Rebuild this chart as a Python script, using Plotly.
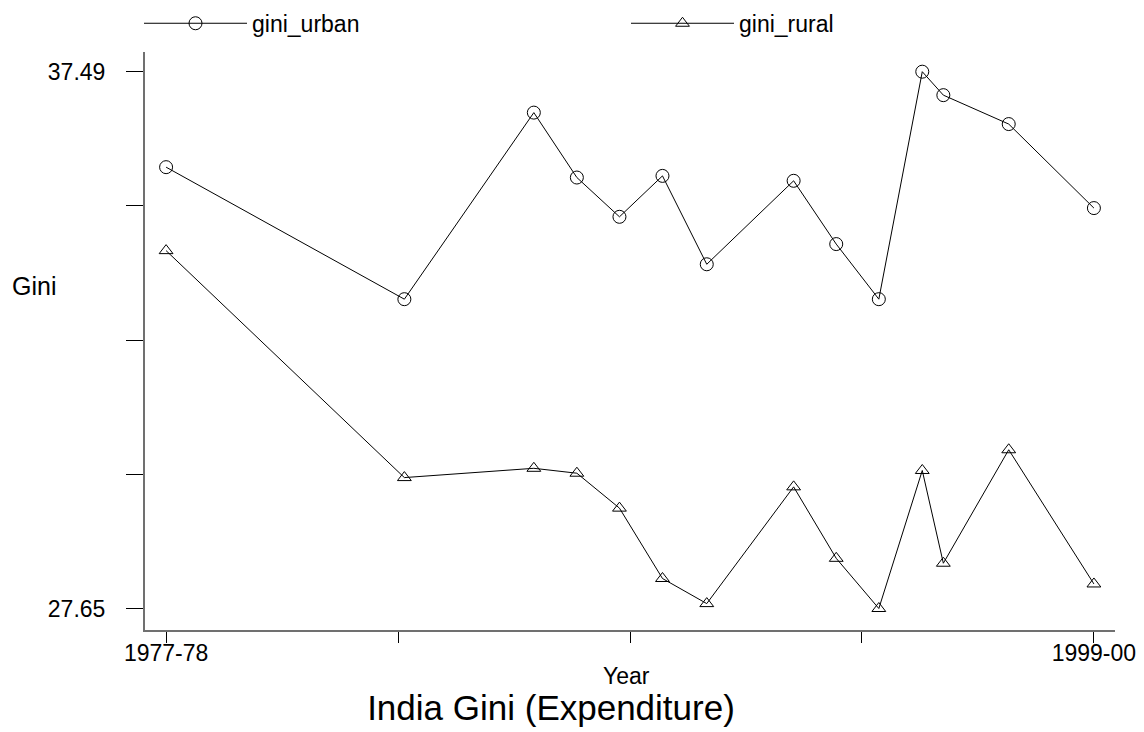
import plotly.graph_objects as go

# ---- data ----
years = [1977.5, 1983.15, 1986.22, 1987.24, 1988.25, 1989.27, 1990.32,
         1992.38, 1993.39, 1994.40, 1995.43, 1995.93, 1997.48, 1999.5]
gini_urban = [35.74, 33.32, 36.74, 35.55, 34.83, 35.58, 33.96,
              35.49, 34.33, 33.32, 37.49, 37.06, 36.53, 34.99]
gini_rural = [34.21, 30.05, 30.22, 30.13, 29.49, 28.20, 27.74,
              29.88, 28.57, 27.65, 30.18, 28.48, 30.56, 28.10]

x_tickvals = [1977.5, 1983.0, 1988.5, 1994.0, 1999.5]
x_ticktext = ["1977-78", "", "", "", "1999-00"]
y_tickvals = [27.65, 30.11, 32.57, 35.03, 37.49]
y_ticktext = ["27.65", "", "", "", "37.49"]

FONT = "Liberation Sans, Arial, sans-serif"
W, H = 1144, 732
L, R, T, B = 145, 29, 52, 102
PW, PH = W - L - R, H - T - B


def paper_x(px):
    return (px - L) / PW


def paper_y(py):
    return (H - B - py) / PH


fig = go.Figure()
fig.add_trace(go.Scatter(
    x=years, y=gini_urban, mode="lines+markers", name="gini_urban",
    line=dict(color="black", width=1),
    marker=dict(symbol="circle-open", size=13, color="black", line=dict(width=1)),
    legend="legend",
))
fig.add_trace(go.Scatter(
    x=years, y=gini_rural, mode="lines+markers", name="gini_rural",
    line=dict(color="black", width=1),
    marker=dict(symbol="triangle-up-open", size=12, color="black", line=dict(width=1)),
    legend="legend2",
))

legend_common = dict(
    xref="paper", yref="paper", xanchor="left", yanchor="middle",
    orientation="h", itemwidth=103, bgcolor="rgba(0,0,0,0)", borderwidth=0,
    font=dict(family=FONT, size=23, color="black"),
)

fig.update_layout(
    width=W, height=H,
    margin=dict(l=L, r=R, t=T, b=B, pad=0, autoexpand=False),
    paper_bgcolor="white", plot_bgcolor="white",
    font=dict(family=FONT, color="black"),
    showlegend=True,
    legend=dict(x=paper_x(139), y=paper_y(23.3), **legend_common),
    legend2=dict(x=paper_x(626), y=paper_y(23.3), **legend_common),
    title=dict(text="India Gini (Expenditure)", x=551 / W, xref="container",
               xanchor="center", y=1 - 707.5 / H, yref="container",
               yanchor="middle", font=dict(family=FONT, size=35, color="black")),
    xaxis=dict(
        range=[1977.0, 2000.0], tickmode="array", tickvals=x_tickvals,
        ticktext=x_ticktext, ticks="outside", ticklen=11, tickwidth=1,
        tickcolor="black", showline=True, linecolor="#707070", linewidth=2,
        showgrid=False, zeroline=False, ticklabelstandoff=-10,
        tickfont=dict(family=FONT, size=23, color="black"),
    ),
    yaxis=dict(
        range=[27.256, 37.851], tickmode="array", tickvals=y_tickvals,
        ticktext=y_ticktext, ticks="outside", ticklen=17, tickwidth=1,
        tickcolor="black", showline=True, linecolor="#707070", linewidth=2,
        showgrid=False, zeroline=False, ticklabelstandoff=16,
        tickfont=dict(family=FONT, size=23, color="black"),
    ),
    annotations=[
        dict(text="Gini", xref="paper", yref="paper", x=paper_x(33.8),
             y=paper_y(285.5), xanchor="center", yanchor="middle",
             showarrow=False, font=dict(family=FONT, size=25, color="black")),
        dict(text="Year", xref="paper", yref="paper", x=paper_x(626),
             y=paper_y(675.5), xanchor="center", yanchor="middle",
             showarrow=False, font=dict(family=FONT, size=23, color="black")),
    ],
)

fig.write_html("out.html", config={"displayModeBar": False},
               post_script="document.body.style.margin='0';")
